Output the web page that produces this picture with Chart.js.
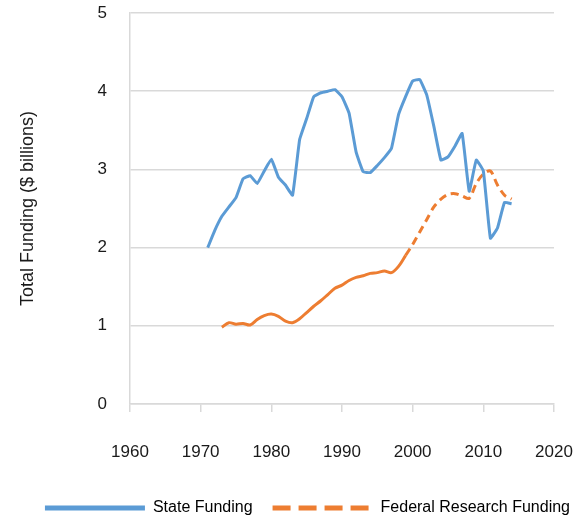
<!DOCTYPE html>
<html>
<head>
<meta charset="utf-8">
<script src="https://cdn.jsdelivr.net/npm/chart.js@4"></script>
<style>
  html, body { margin: 0; padding: 0; background: #fff; }
  #wrap { width: 577px; height: 523px; position: relative; }
</style>
</head>
<body>
<div id="wrap"><canvas id="myChart"></canvas></div>
<script>
const stateYears = [1971, 1972, 1973, 1974, 1975, 1976, 1977, 1978, 1979, 1980,
    1981, 1982, 1983, 1984, 1985, 1986, 1987, 1988, 1989, 1990,
    1991, 1992, 1993, 1994, 1995, 1996, 1997, 1998, 1999, 2000,
    2001, 2002, 2003, 2004, 2005, 2006, 2007, 2008, 2009, 2010,
    2011, 2012, 2013, 2014];
const stateValues = [2.00, 2.22, 2.40, 2.52, 2.64, 2.88, 2.92, 2.82, 2.98, 3.13,
    2.90, 2.80, 2.67, 3.38, 3.65, 3.93, 3.98, 4.00, 4.02, 3.93,
    3.72, 3.22, 2.97, 2.96, 3.05, 3.15, 3.27, 3.70, 3.93, 4.13,
    4.15, 3.95, 3.55, 3.12, 3.16, 3.30, 3.46, 2.72, 3.12, 2.98,
    2.12, 2.25, 2.58, 2.56];

const federalYears = [1973, 1974, 1975, 1976, 1977, 1978, 1979, 1980,
    1981, 1982, 1983, 1984, 1985, 1986, 1987, 1988, 1989, 1990,
    1991, 1992, 1993, 1994, 1995, 1996, 1997, 1998, 1999, 2000,
    2001, 2002, 2003, 2004, 2005, 2006, 2007, 2008, 2009, 2010,
    2011, 2012, 2013, 2014];
const federalValues = [0.98, 1.04, 1.02, 1.03, 1.01, 1.08, 1.13, 1.15,
    1.12, 1.06, 1.04, 1.09, 1.17, 1.25, 1.32, 1.40, 1.48, 1.52,
    1.58, 1.62, 1.64, 1.67, 1.68, 1.70, 1.68, 1.76, 1.90, 2.04,
    2.20, 2.36, 2.52, 2.62, 2.68, 2.69, 2.66, 2.63, 2.82, 2.94,
    2.98, 2.80, 2.67, 2.62];

const seriesNames = ['State Funding', 'Federal Research Funding'];
const yTicks = [0, 1, 2, 3, 4, 5];
const xTicks = [1960, 1970, 1980, 1990, 2000, 2010, 2020];
const dashFrom = 1999;

const blue = '#5b9bd5';
const orange = '#ed7d31';
const gridColor = '#d9d9d9';

Chart.defaults.font.family = "'Liberation Sans', Arial, sans-serif";
Chart.defaults.color = '#1a1a1a';

function toPoints(xs, ys) {
    return xs.map((x, i) => ({ x: x, y: ys[i] }));
}

const ctx = document.getElementById('myChart').getContext('2d');
const myChart = new Chart(ctx, {
    type: 'line',
    data: {
        datasets: [{
            label: seriesNames[0],
            data: toPoints(stateYears, stateValues),
            borderColor: blue,
            backgroundColor: blue,
            borderWidth: 3,
            pointRadius: 0,
            tension: 0.1
        }, {
            label: seriesNames[1],
            data: toPoints(federalYears, federalValues),
            borderColor: orange,
            backgroundColor: orange,
            borderWidth: 3,
            pointRadius: 0,
            tension: 0.3,
            segment: {
                borderDash: c => c.p0.parsed.x >= dashFrom ? [8, 5] : undefined
            }
        }]
    },
    options: {
        responsive: true,
        maintainAspectRatio: false,
        animation: false,
        // negative right/bottom lets the legend sit nearer the edges, as in the source
        layout: { padding: { top: 13, right: -13, left: 0, bottom: -3 } },
        plugins: {
            tooltip: { enabled: false },
            legend: {
                position: 'bottom',
                align: 'end',
                labels: {
                    usePointStyle: true,
                    pointStyleWidth: 100,
                    padding: 20,
                    font: { size: 16 },
                    color: '#1a1a1a',
                    generateLabels: chart => seriesNames.map((name, i) => ({
                        text: name,
                        datasetIndex: i,
                        fillStyle: i === 0 ? blue : orange,
                        strokeStyle: i === 0 ? blue : orange,
                        lineWidth: 5,
                        lineDash: i === 0 ? [] : [18, 8],
                        pointStyle: 'line',
                        hidden: false
                    }))
                }
            }
        },
        scales: {
            x: {
                type: 'linear',
                min: xTicks[0],
                max: xTicks[xTicks.length - 1],
                afterBuildTicks: scale => { scale.ticks = xTicks.map(v => ({ value: v })); },
                afterFit: scale => {
                    scale.height = 76;
                    scale.paddingLeft = 0;
                    scale.paddingRight = 23;
                },
                ticks: {
                    font: { size: 17 },
                    padding: 30,
                    maxRotation: 0,
                    callback: v => String(v)
                },
                grid: {
                    drawOnChartArea: false,
                    color: gridColor,
                    lineWidth: 1.5,
                    tickLength: 8
                },
                border: { color: gridColor, width: 1.5 }
            },
            y: {
                min: yTicks[0],
                max: yTicks[yTicks.length - 1],
                afterBuildTicks: scale => { scale.ticks = yTicks.map(v => ({ value: v })); },
                afterFit: scale => {
                    scale.width = 130;
                    scale.paddingTop = 0;
                    scale.paddingBottom = 0;
                },
                ticks: {
                    font: { size: 17 },
                    padding: 23
                },
                grid: {
                    color: gridColor,
                    lineWidth: 1.5,
                    drawTicks: false
                },
                border: { color: gridColor, width: 1.5 },
                title: {
                    display: true,
                    text: 'Total Funding ($ billions)',
                    font: { size: 18 },
                    color: '#1a1a1a',
                    padding: { top: 17, bottom: 0 }
                }
            }
        }
    }
});
</script>
</body>
</html>
